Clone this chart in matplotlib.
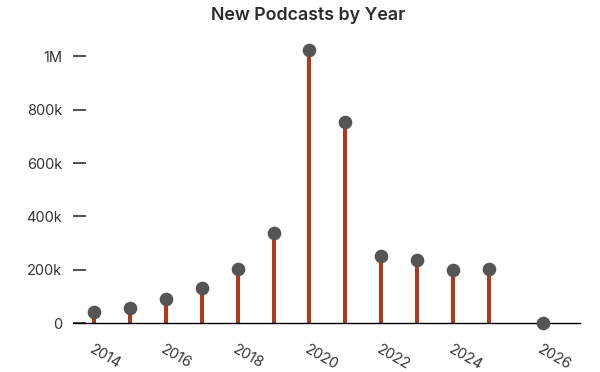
import matplotlib
matplotlib.use("Agg")
import matplotlib.pyplot as plt
import numpy as np
from matplotlib.ticker import FuncFormatter

# data
years = [2014, 2015, 2016, 2017, 2018, 2019, 2020, 2021, 2022, 2023, 2024, 2025, 2026]
new_podcasts = [41000, 58000, 90000, 133000, 203000, 338000, 1023000, 754000,
                253000, 237000, 199000, 202000, 1000]
x_ticks = [2014, 2016, 2018, 2020, 2022, 2024, 2026]
y_ticks = [0, 200000, 400000, 600000, 800000, 1000000]

stem_color = "#b0391b"
dot_color = "#555555"
text_color = "#333333"

plt.rcParams['font.family'] = ['Inter', 'DejaVu Sans']


# the reference axis stretches the last year a bit
def fwd(x):
    x = np.asarray(x, dtype=float)
    return np.where(x <= 2025, x, 2025 + 1.5 * (x - 2025))


def inv(x):
    x = np.asarray(x, dtype=float)
    return np.where(x <= 2025, x, 2025 + (x - 2025) / 1.5)


def fmt_k(v, pos):
    if v == 0:
        return "0"
    if v >= 1e6:
        return "%gM" % (v / 1e6)
    return "%gk" % (v / 1e3)


fig = plt.figure(figsize=(6, 3.72), dpi=100)
ax = fig.add_axes([73 / 600, 0.1309, (580 - 73) / 600, 0.7538])
ax.set_xscale('function', functions=(fwd, inv))

ax.vlines(years, 0, new_podcasts, color=stem_color, linewidth=2.9, zorder=2)
ax.plot(years, new_podcasts, 'o', color=dot_color, markersize=8.8,
        clip_on=False, zorder=3)

ax.set_xlim(2013.415, 2026.69)
ax.set_ylim(0, 1.05e6)

for s in ['top', 'right', 'left']:
    ax.spines[s].set_visible(False)
ax.spines['bottom'].set_color('black')
ax.spines['bottom'].set_linewidth(1.0)
ax.spines['bottom'].set_zorder(2.5)

ax.set_yticks(y_ticks)
ax.yaxis.set_major_formatter(FuncFormatter(fmt_k))
ax.tick_params(axis='y', direction='in', length=9.4, width=1.2, color=text_color,
               pad=8, labelsize=10.5, labelcolor=text_color)

ax.set_xticks(x_ticks)
ax.set_xticklabels([str(y) for y in x_ticks])
ax.tick_params(axis='x', length=0, pad=14, labelsize=10.5, labelcolor=text_color)
for lab in ax.get_xticklabels():
    lab.set_rotation(-30)
    lab.set_ha('left')
    lab.set_va('top')
    lab.set_rotation_mode('anchor')

fig.text(308 / 600, 1 - 15 / 372, "New Podcasts by Year", ha='center', va='center',
         fontsize=12.8, fontweight='semibold', color='#2b2b2b')

fig.savefig("out.png", dpi=100)
